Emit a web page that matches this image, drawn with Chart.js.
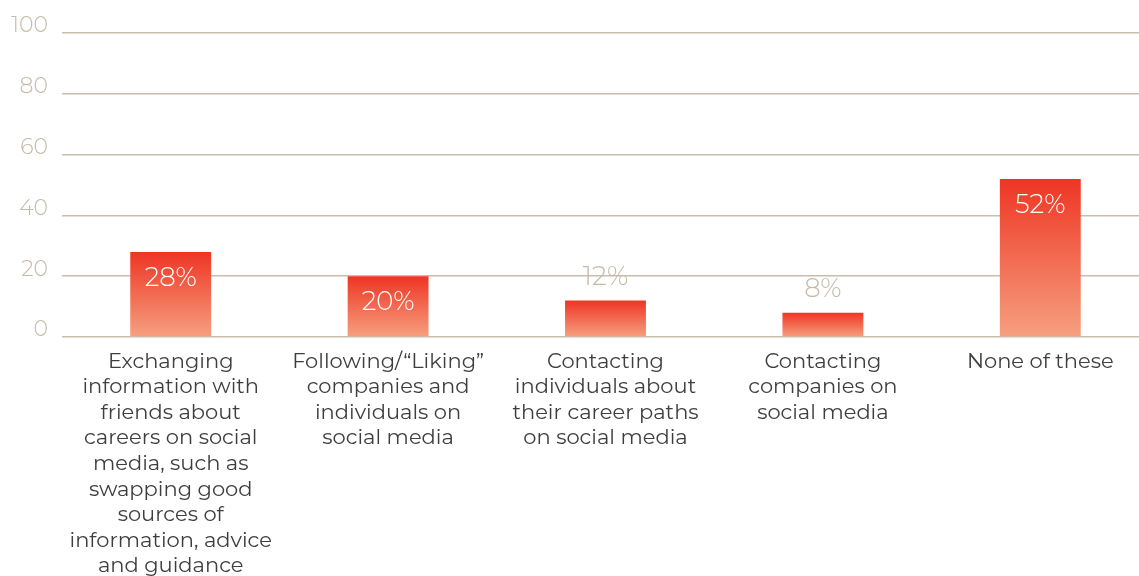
<!DOCTYPE html>
<html>
<head>
<meta charset="utf-8">
<script src="https://cdn.jsdelivr.net/npm/chart.js@4/dist/chart.umd.min.js"></script>
<style>
  html, body { margin: 0; padding: 0; background: #ffffff; overflow: hidden; }
  #wrap { width: 1139px; height: 576px; overflow: hidden; }
  canvas { display: block; }
</style>
</head>
<body>
<div id="wrap"><canvas id="chart" width="1150" height="576"></canvas></div>
<script>
// Survey categories (multi-line labels) and share of respondents, %
const categories = [
  ["Exchanging", "information with", "friends about", "careers on social", "media, such as", "swapping good", "sources of", "information, advice", "and guidance"],
  ["Following/\u201CLiking\u201D", "companies and", "individuals on", "social media"],
  ["Contacting", "individuals about", "their career paths", "on social media"],
  ["Contacting", "companies on", "social media"],
  ["None of these"]
];
const shares = [28, 20, 12, 8, 52];
const yTicks = [0, 20, 40, 60, 80, 100];

const FONT = "'Montserrat', 'Open Sans', 'Lato', sans-serif";
const TAN = '#c6b9a8';
const GRID = '#c9bdac';

// Vertical red-to-salmon gradient sized to each bar
function barGradient(ctx) {
  const chart = ctx.chart;
  const y = chart.scales && chart.scales.y;
  if (!chart.chartArea || !y) return '#f06a4a';
  const top = y.getPixelForValue(ctx.raw);
  const base = y.getPixelForValue(0);
  const g = chart.ctx.createLinearGradient(0, top, 0, base);
  g.addColorStop(0, '#ee3524');
  g.addColorStop(1, '#f6a07f');
  return g;
}

// Percentage labels: white inside tall bars, tan above short ones
const valueLabels = {
  id: 'valueLabels',
  afterDatasetsDraw(chart) {
    const ctx = chart.ctx;
    const meta = chart.getDatasetMeta(0);
    ctx.save();
    ctx.font = '300 26px ' + FONT;
    ctx.textAlign = 'center';
    ctx.textBaseline = 'middle';
    meta.data.forEach((bar, i) => {
      const v = shares[i];
      if (v >= 15) {
        ctx.fillStyle = '#ffffff';
        ctx.fillText(v + '%', bar.x, bar.y + 26);
      } else {
        ctx.fillStyle = TAN;
        ctx.fillText(v + '%', bar.x, bar.y - 23);
      }
    });
    ctx.restore();
  }
};

new Chart(document.getElementById('chart'), {
  type: 'bar',
  data: {
    labels: categories,
    datasets: [{
      data: shares,
      backgroundColor: barGradient,
      borderWidth: 0,
      barPercentage: 0.372,
      categoryPercentage: 1.0
    }]
  },
  options: {
    responsive: false,
    animation: false,
    layout: { padding: { top: 33, right: 1, left: 0, bottom: 0 } },
    plugins: {
      legend: { display: false },
      tooltip: { enabled: false }
    },
    scales: {
      x: {
        grid: { display: false, drawTicks: false },
        border: { display: false },
        ticks: {
          color: '#3e3e3e',
          font: { family: FONT, size: 21, weight: 400, lineHeight: 1.215 },
          padding: 12,
          maxRotation: 0,
          autoSkip: false
        },
        afterFit(scale) { scale.height = 239; }
      },
      y: {
        min: 0,
        max: 100,
        afterBuildTicks(scale) { scale.ticks = yTicks.map(v => ({ value: v })); },
        grid: { color: GRID, lineWidth: 1.5, drawTicks: false },
        border: { display: false },
        ticks: {
          color: TAN,
          font: { family: FONT, size: 22, weight: 300 },
          padding: 14,
          labelOffset: -7
        },
        afterFit(scale) { scale.width = 62; }
      }
    }
  },
  plugins: [valueLabels]
});
</script>
</body>
</html>
